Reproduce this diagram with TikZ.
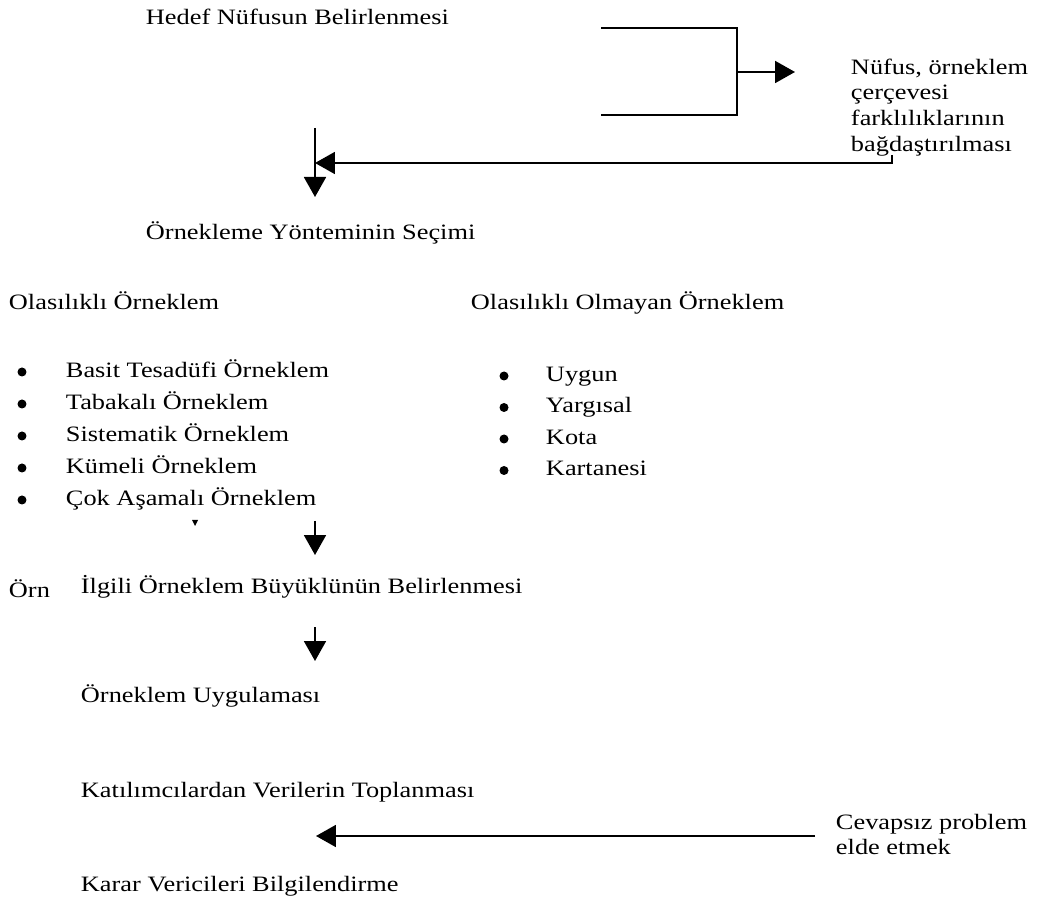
\documentclass[tikz,border=0pt]{standalone}
\usepackage{fontspec}
\setmainfont{Liberation Serif}[FakeStretch=1.2]
\usetikzlibrary{arrows.meta,positioning}

\begin{document}
\begin{tikzpicture}[
    x=0.02cm, y=-0.02cm,
    lbl/.style={anchor=west, inner sep=0pt, text height=8.5pt, text depth=0pt,
        font=\fontsize{12.5}{15}\selectfont},
    dot/.style={circle, fill, inner sep=0pt, minimum size=0.18cm},
    arr/.style={-{Triangle[length=0.4cm, width=0.44cm]}},
    line width=1.1pt
]
    \useasboundingbox (0,0) rectangle (1038,908);

    % Top step and the side bracket
    \node[lbl] (hedef) at (145,17) {Hedef Nüfusun Belirlenmesi};
    \coordinate (brtop) at (601,28);
    \coordinate (brbot) at (601,115);
    \coordinate (brmid) at (737,72);
    \coordinate (brtip) at (795,72);
    \draw (brtop) -- (737,28) -- (737,115) -- (brbot);
    \draw[arr] (brmid) -- (brtip);

    % Side note (one node per line)
    \node[lbl, anchor=base west] (n1) at (850,75) {Nüfus, örneklem};
    \node[lbl, anchor=base west] (n2) at (850,100) {çerçevesi};
    \node[lbl, anchor=base west] (n3) at (850,126) {farklılıklarının};
    \node[lbl, anchor=base west] (n4) at (850,152) {bağdaştırılması};

    % Return line and down arrow
    \coordinate (rt) at (892,155);
    \coordinate (vtop) at (315,128);
    \coordinate (vjoin) at (315,163);
    \coordinate (vtip) at (315,197);
    \draw[arr] (rt) |- (vjoin);
    \draw[arr] (vtop) -- (vtip);

    \node[lbl] (secim) at (145,232) {Örnekleme Yönteminin Seçimi};

    % Two families of sampling
    \node[lbl] (olas) at (8,302) {Olasılıklı Örneklem};
    \node[lbl] (olmayan) at (470,302) {Olasılıklı Olmayan Örneklem};

    \foreach \txt [count=\i] in {Basit Tesadüfi Örneklem, Tabakalı Örneklem,
        Sistematik Örneklem, Kümeli Örneklem, Çok Aşamalı Örneklem} {
        \node[dot] (pb\i) at (22,{372+32*(\i-1)}) {};
        \node[lbl] (p\i) at (65,{370+32*(\i-1)}) {\txt};
    }
    \foreach \txt [count=\i] in {Uygun, Yargısal, Kota, Kartanesi} {
        \node[dot] (nb\i) at (504,{376+31.5*(\i-1)}) {};
        \node[lbl] (np\i) at (545,{374+31.5*(\i-1)}) {\txt};
    }
    \fill (192,520) -- (198,520) -- (195,526) -- cycle;

    % Lower steps
    \coordinate (a1) at (315,521);
    \coordinate (a1tip) at (315,555);
    \draw[arr] (a1) -- (a1tip);
    \node[lbl] (orn) at (8,590) {Örn};
    \node[lbl] (ilgili) at (80,586) {İlgili Örneklem Büyüklünün Belirlenmesi};

    \coordinate (a2) at (315,627);
    \coordinate (a2tip) at (315,661);
    \draw[arr] (a2) -- (a2tip);
    \node[lbl] (uygulama) at (80,695) {Örneklem Uygulaması};

    \node[lbl] (toplama) at (80,790) {Katılımcılardan Verilerin Toplanması};

    \node[lbl] (cev1) at (835,822) {Cevapsız problem};
    \node[lbl] (cev2) at (835,847) {elde etmek};
    \coordinate (a3) at (815,836);
    \coordinate (a3tip) at (316,836);
    \draw[arr] (a3) -- (a3tip);

    \node[lbl] (karar) at (80,884) {Karar Vericileri Bilgilendirme};
\end{tikzpicture}
\end{document}
